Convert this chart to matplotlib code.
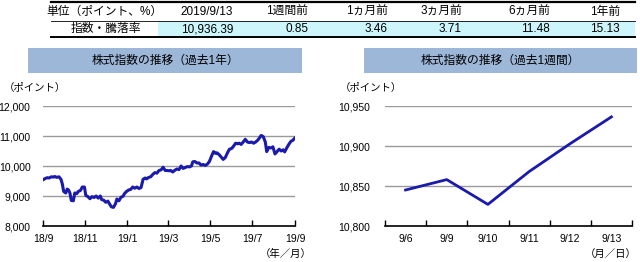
import matplotlib
matplotlib.use("Agg")
import matplotlib.pyplot as plt
import matplotlib.ticker as mticker
from matplotlib.patches import Rectangle
import pandas as pd

plt.rcParams['font.family'] = ['Liberation Sans', 'Noto Sans CJK JP']

# table
head_label = "単位（ポイント、%）"
row_label = "指数・騰落率"
col_names = ["2019/9/13", "1週間前", "1ヵ月前", "3ヵ月前", "6ヵ月前", "1年前"]
col_values = ["10,936.39", "0.85", "3.46", "3.71", "11.48", "15.13"]

# past year
year_dates = [
    "2018-09-13", "2018-09-16", "2018-09-19", "2018-09-22", "2018-09-25", "2018-09-28",
    "2018-09-30", "2018-10-03", "2018-10-06", "2018-10-09", "2018-10-11", "2018-10-13",
    "2018-10-16", "2018-10-18", "2018-10-20", "2018-10-22", "2018-10-24", "2018-10-27",
    "2018-10-29", "2018-11-01", "2018-11-03", "2018-11-06", "2018-11-09", "2018-11-12",
    "2018-11-14", "2018-11-17", "2018-11-20", "2018-11-23", "2018-11-26", "2018-11-29",
    "2018-12-02", "2018-12-05", "2018-12-07", "2018-12-10", "2018-12-13", "2018-12-16",
    "2018-12-18", "2018-12-21", "2018-12-24", "2018-12-27", "2018-12-29", "2019-01-01",
    "2019-01-04", "2019-01-07", "2019-01-09", "2019-01-12", "2019-01-15", "2019-01-18",
    "2019-01-21", "2019-01-24", "2019-01-27", "2019-01-30", "2019-02-02", "2019-02-05",
    "2019-02-08", "2019-02-10", "2019-02-13", "2019-02-16", "2019-02-19", "2019-02-22",
    "2019-02-25", "2019-02-28", "2019-03-03", "2019-03-06", "2019-03-09", "2019-03-12",
    "2019-03-15", "2019-03-17", "2019-03-20", "2019-03-23", "2019-03-26", "2019-03-29",
    "2019-04-01", "2019-04-04", "2019-04-07", "2019-04-10", "2019-04-13", "2019-04-16",
    "2019-04-18", "2019-04-21", "2019-04-24", "2019-04-27", "2019-04-30", "2019-05-03",
    "2019-05-06", "2019-05-09", "2019-05-12", "2019-05-15", "2019-05-18", "2019-05-21",
    "2019-05-23", "2019-05-26", "2019-05-29", "2019-06-01", "2019-06-04", "2019-06-07",
    "2019-06-10", "2019-06-13", "2019-06-16", "2019-06-19", "2019-06-22", "2019-06-24",
    "2019-06-27", "2019-06-30", "2019-07-03", "2019-07-06", "2019-07-09", "2019-07-12",
    "2019-07-15", "2019-07-18", "2019-07-21", "2019-07-24", "2019-07-26", "2019-07-29",
    "2019-08-01", "2019-08-03", "2019-08-06", "2019-08-09", "2019-08-12", "2019-08-15",
    "2019-08-18", "2019-08-21", "2019-08-24", "2019-08-27", "2019-08-29", "2019-09-01",
    "2019-09-04", "2019-09-07", "2019-09-10", "2019-09-13",
]
year_values = [
    9540, 9580, 9610, 9600, 9640, 9630,
    9650, 9620, 9640, 9560, 9400, 9150,
    9100, 9230, 9200, 9100, 8850, 8840,
    9100, 9080, 9150, 9180, 9300, 9300,
    9020, 8980, 8910, 8980, 8950, 9000,
    8930, 9000, 8880, 8860, 8790, 8830,
    8750, 8640, 8620, 8740, 8900, 8840,
    8960, 8990, 9080, 9150, 9200, 9220,
    9300, 9260, 9300, 9250, 9280, 9560,
    9600, 9570, 9620, 9640, 9720, 9780,
    9760, 9850, 9870, 9960, 9850, 9850,
    9840, 9850, 9800, 9860, 9900, 9880,
    10000, 9920, 9950, 9980, 9970, 10000,
    10140, 10150, 10100, 10100, 10030, 10050,
    10020, 10060, 10150, 10320, 10480, 10420,
    10440, 10380, 10300, 10220, 10280, 10430,
    10560, 10580, 10660, 10760, 10740, 10760,
    10720, 10800, 10890, 10800, 10780, 10800,
    10760, 10800, 10860, 10950, 11020, 10980,
    10800, 10480, 10620, 10600, 10640, 10400,
    10480, 10560, 10500, 10540, 10470, 10600,
    10720, 10820, 10860, 10936.39,
]
year_ticks = ["2018-09-13", "2018-11-13", "2019-01-13", "2019-03-13",
              "2019-05-13", "2019-07-13", "2019-09-13"]
year_tick_labels = ["18/9", "18/11", "19/1", "19/3", "19/5", "19/7", "19/9"]

# past week
week_labels = ["9/6", "9/9", "9/10", "9/11", "9/12", "9/13"]
week_values = [10845, 10858, 10827, 10868, 10903, 10936.39]

W, H = 640, 262
LINE = "#1a1aad"
BOX = "#9db7d9"
CYAN = "#ccf6fb"


def fx(x):
    return x / W


def fy(y):
    return 1 - y / H


fig = plt.figure(figsize=(6.4, 2.62), dpi=100)

# ---- table ----
fig.patches.append(Rectangle((fx(158), fy(37)), fx(635 - 158), (37 - 21) / H,
                             transform=fig.transFigure, facecolor=CYAN,
                             edgecolor="none"))
for yy, lw in [(2, 1.6), (21, 0.6), (37, 1.4)]:
    fig.add_artist(plt.Line2D([fx(51), fx(635)], [fy(yy), fy(yy)],
                              transform=fig.transFigure, color="black", lw=lw))
fig.text(fx(104), fy(12), head_label, ha="center", va="center", fontsize=8.5)
fig.text(fx(106), fy(29), row_label, ha="center", va="center", fontsize=8.5)
col_right = [233, 308, 388, 462, 550, 620]
for xr, name, val in zip(col_right, col_names, col_values):
    fig.text(fx(xr), fy(12), name, ha="right", va="center", fontsize=8.5)
    fig.text(fx(xr), fy(29), val, ha="right", va="center", fontsize=8.5)


def title_box(x0, x1, text):
    fig.patches.append(Rectangle((fx(x0), fy(73)), fx(x1 - x0), 25 / H,
                                 transform=fig.transFigure, facecolor=BOX,
                                 edgecolor="none"))
    fig.text(fx((x0 + x1) / 2), fy(60.5), text, ha="center", va="center",
             fontsize=8.5)


def style_axis(ax):
    for s in ["top", "right", "left"]:
        ax.spines[s].set_visible(False)
    ax.spines["bottom"].set_linewidth(1.2)
    ax.grid(axis="y", color="#9a9a9a", lw=1)
    ax.set_axisbelow(True)
    ax.tick_params(axis="y", length=0, pad=9, labelsize=7.5)
    ax.tick_params(axis="x", direction="in", length=4, width=1, pad=6,
                   labelsize=7.5)


# ---- left chart ----
title_box(28, 302, "株式指数の推移（過去1年）")
ax1 = fig.add_axes([fx(43), fy(226), fx(295 - 43), 120 / H])
dates = pd.to_datetime(year_dates)
ax1.plot(dates, year_values, color=LINE, lw=2.2)
ax1.set_xlim(dates[0], dates[-1])
ax1.set_ylim(8000, 12000)
ax1.set_yticks([8000, 9000, 10000, 11000, 12000])
ax1.yaxis.set_major_formatter(mticker.StrMethodFormatter("{x:,.0f}"))
ax1.set_xticks(pd.to_datetime(year_ticks))
ax1.set_xticklabels(year_tick_labels)
style_axis(ax1)
fig.text(fx(4), fy(88), "（ポイント）", ha="left", va="center", fontsize=7.5)
fig.text(fx(312), fy(254), "（年／月）", ha="right", va="center", fontsize=7.5)

# ---- right chart ----
title_box(364, 637, "株式指数の推移（過去1週間）")
ax2 = fig.add_axes([fx(385), fy(226), fx(632 - 385), 120 / H])
xs = range(len(week_labels))
ax2.plot(xs, week_values, color=LINE, lw=2)
ax2.set_xlim(-0.5, len(week_labels) - 0.5)
ax2.set_ylim(10800, 10950)
ax2.set_yticks([10800, 10850, 10900, 10950])
ax2.yaxis.set_major_formatter(mticker.StrMethodFormatter("{x:,.0f}"))
ax2.set_xticks(list(xs))
ax2.set_xticklabels(week_labels)
ax2.set_xticks([i - 0.5 for i in range(len(week_labels) + 1)], minor=True)
style_axis(ax2)
ax2.tick_params(axis="y", pad=11)
ax2.tick_params(axis="x", which="major", length=0)
ax2.tick_params(axis="x", which="minor", direction="in", length=4, width=1)
fig.text(fx(340), fy(88), "（ポイント）", ha="left", va="center", fontsize=7.5)
fig.text(fx(637), fy(254), "（月／日）", ha="right", va="center", fontsize=7.5)

fig.savefig("out.png", dpi=100)
